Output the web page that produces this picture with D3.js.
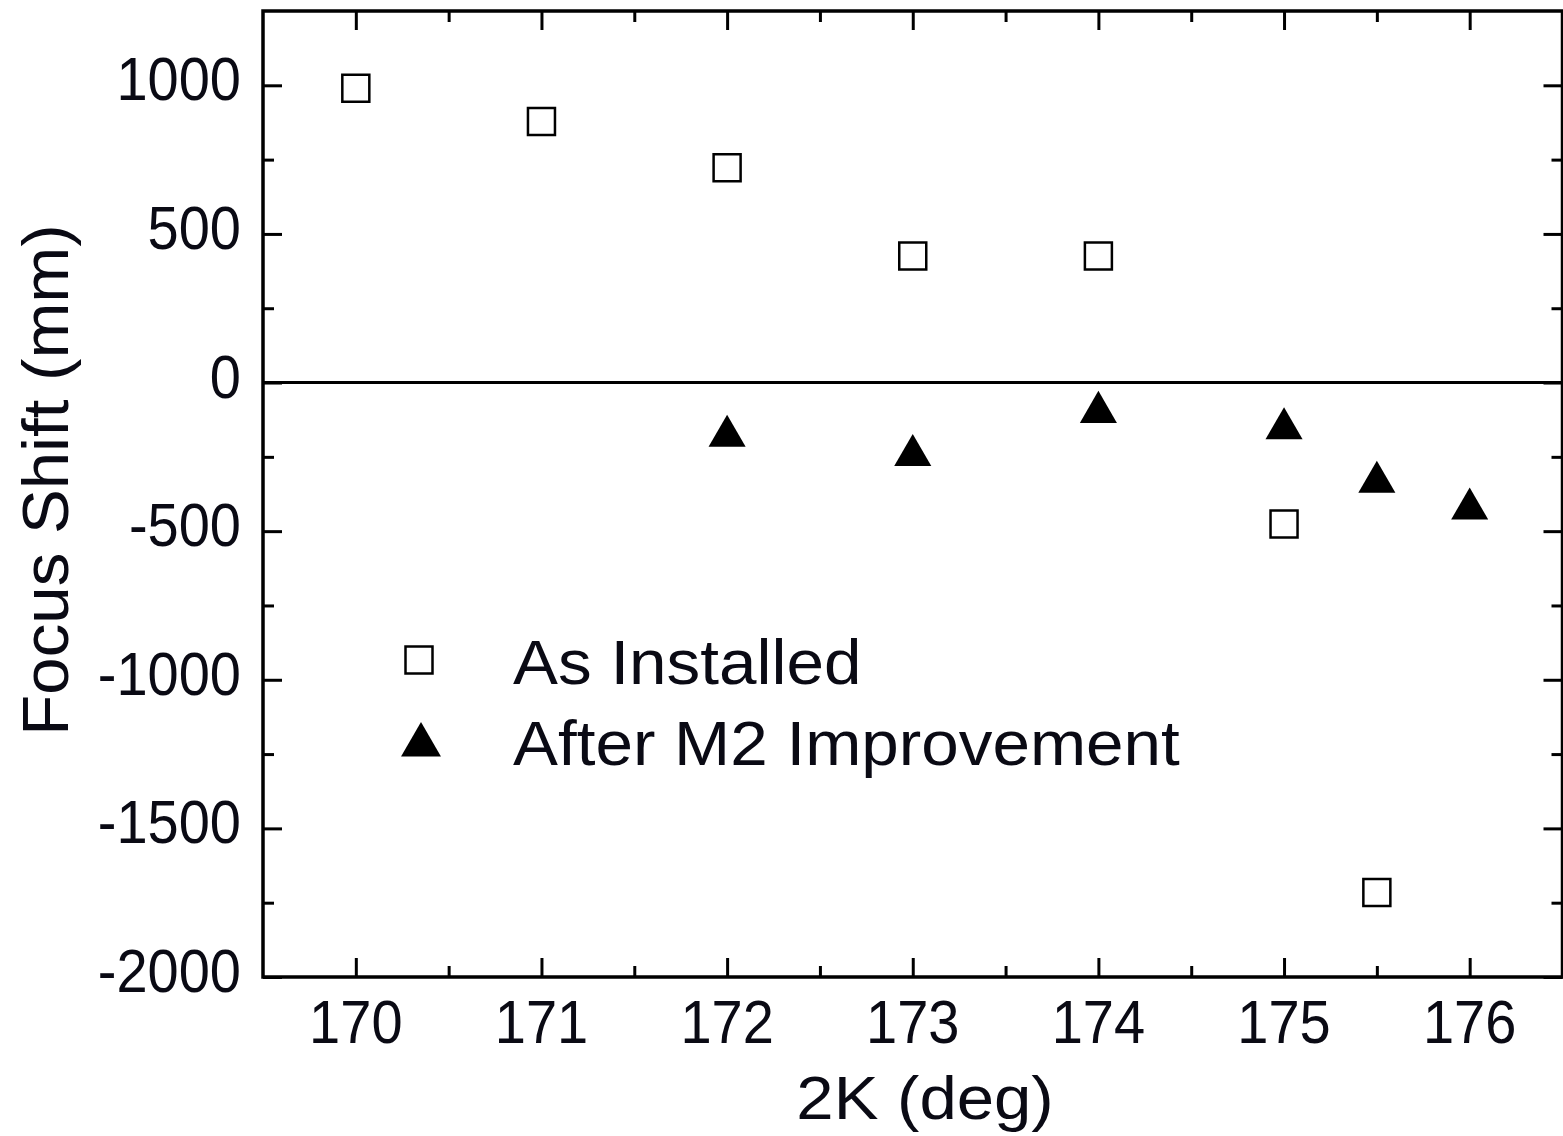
<!DOCTYPE html>
<html>
<head>
<meta charset="utf-8">
<script src="https://cdn.jsdelivr.net/npm/d3@7"></script>
<style>
  html, body { margin: 0; padding: 0; background: #fff; }
  svg { display: block; }
  text { font-family: "Liberation Sans", Arial, sans-serif; fill: #0a0a14; }
</style>
</head>
<body>
<svg id="chart" width="1563" height="1136"></svg>
<script>
// Focus shift measured against the 2K angle
const asInstalledK = [170, 171, 172, 173, 174, 175, 175.5];
const asInstalledShift = [990, 878, 723, 426, 426, -476, -1716];

const afterM2K = [172, 173, 174, 175, 175.5, 176];
const afterM2Shift = [-180, -245, -100, -155, -335, -425];

const xTickValues = [170, 171, 172, 173, 174, 175, 176];
const yTickValues = [-2000, -1500, -1000, -500, 0, 500, 1000];

const legendLabels = ["As Installed", "After M2 Improvement"];

const width = 1563, height = 1136;
const margin = { left: 263, right: 0.5, top: 11, bottom: 159 };

const svg = d3.select("#chart");

const x = d3.scaleLinear()
  .domain([169.5, 176.5])
  .range([margin.left, width - margin.right]);
const y = d3.scaleLinear()
  .domain([-2000, 1250])
  .range([height - margin.bottom, margin.top]);

const x0 = margin.left, x1 = width - margin.right;
const y0 = height - margin.bottom, y1 = margin.top;

const minorX = d3.range(170.5, 176.5, 1);
const minorY = d3.range(-1750, 1250, 500);

// inward ticks on all four sides
function tickAxis(axisFn, scale, values, len) {
  return axisFn(scale).tickValues(values).tickSize(len).tickFormat("");
}
const majorLen = 19, minorLen = 11;

const gAxes = svg.append("g");

// bottom
gAxes.append("g").attr("transform", `translate(0,${y0})`)
  .call(tickAxis(d3.axisTop, x, xTickValues, majorLen))
  .call(g => g.append("g").call(tickAxis(d3.axisTop, x, minorX, minorLen)));
// top
gAxes.append("g").attr("transform", `translate(0,${y1})`)
  .call(tickAxis(d3.axisBottom, x, xTickValues, majorLen))
  .call(g => g.append("g").call(tickAxis(d3.axisBottom, x, minorX, minorLen)));
// left
gAxes.append("g").attr("transform", `translate(${x0},0)`)
  .call(tickAxis(d3.axisRight, y, yTickValues, majorLen))
  .call(g => g.append("g").call(tickAxis(d3.axisRight, y, minorY, minorLen)));
// right
gAxes.append("g").attr("transform", `translate(${x1},0)`)
  .call(tickAxis(d3.axisLeft, y, yTickValues, majorLen))
  .call(g => g.append("g").call(tickAxis(d3.axisLeft, y, minorY, minorLen)));

gAxes.selectAll(".domain").remove();
gAxes.selectAll(".tick line").attr("stroke", "#000").attr("stroke-width", 3);

// frame
svg.append("rect")
  .attr("x", x0).attr("y", y1)
  .attr("width", x1 - x0).attr("height", y0 - y1)
  .attr("fill", "none").attr("stroke", "#000").attr("stroke-width", 3.5);

// zero reference line
svg.append("line")
  .attr("x1", x0).attr("x2", x1)
  .attr("y1", y(0)).attr("y2", y(0))
  .attr("stroke", "#000").attr("stroke-width", 3);

// tick labels
const labelSize = 56;
svg.append("g").selectAll("text").data(xTickValues).join("text")
  .attr("transform", d => `translate(${x(d)},1043) scale(1,1.08)`)
  .attr("text-anchor", "middle")
  .attr("font-size", labelSize)
  .text(d => d);

svg.append("g").selectAll("text").data(yTickValues).join("text")
  .attr("transform", d => `translate(241,${y(d) + 15}) scale(1,1.08)`)
  .attr("text-anchor", "end")
  .attr("font-size", labelSize)
  .text(d => d);

// axis titles
svg.append("text")
  .attr("transform", `translate(925,1119) scale(1.1,1)`)
  .attr("text-anchor", "middle")
  .attr("font-size", 61)
  .text("2K (deg)");

svg.append("text")
  .attr("transform", `translate(68,480) rotate(-90) scale(1.05,1)`)
  .attr("text-anchor", "middle")
  .attr("font-size", 64)
  .text("Focus Shift (mm)");

// markers
const squareSym = d3.symbol().type(d3.symbolSquare).size(27 * 27);
const triSym = d3.symbol().type(d3.symbolTriangle).size(595);

svg.append("g").selectAll("path")
  .data(asInstalledK.map((k, i) => [k, asInstalledShift[i]]))
  .join("path")
  .attr("d", squareSym)
  .attr("transform", d => `translate(${x(d[0])},${y(d[1])})`)
  .attr("fill", "#fff").attr("stroke", "#000").attr("stroke-width", 2.5);

svg.append("g").selectAll("path")
  .data(afterM2K.map((k, i) => [k, afterM2Shift[i]]))
  .join("path")
  .attr("d", triSym)
  .attr("transform", d => `translate(${x(d[0])},${y(d[1])})`)
  .attr("fill", "#000");

// legend
const legend = svg.append("g");
legend.append("path").attr("d", squareSym)
  .attr("transform", "translate(419,660)")
  .attr("fill", "#fff").attr("stroke", "#000").attr("stroke-width", 2.5);
legend.append("path").attr("d", d3.symbol().type(d3.symbolTriangle).size(690))
  .attr("transform", "translate(421,745)")
  .attr("fill", "#000");
legend.append("text")
  .attr("transform", "translate(513,684) scale(1.07,1)")
  .attr("font-size", 63)
  .text(legendLabels[0]);
legend.append("text")
  .attr("transform", "translate(513,765) scale(1.07,1)")
  .attr("font-size", 63)
  .text(legendLabels[1]);
</script>
</body>
</html>
